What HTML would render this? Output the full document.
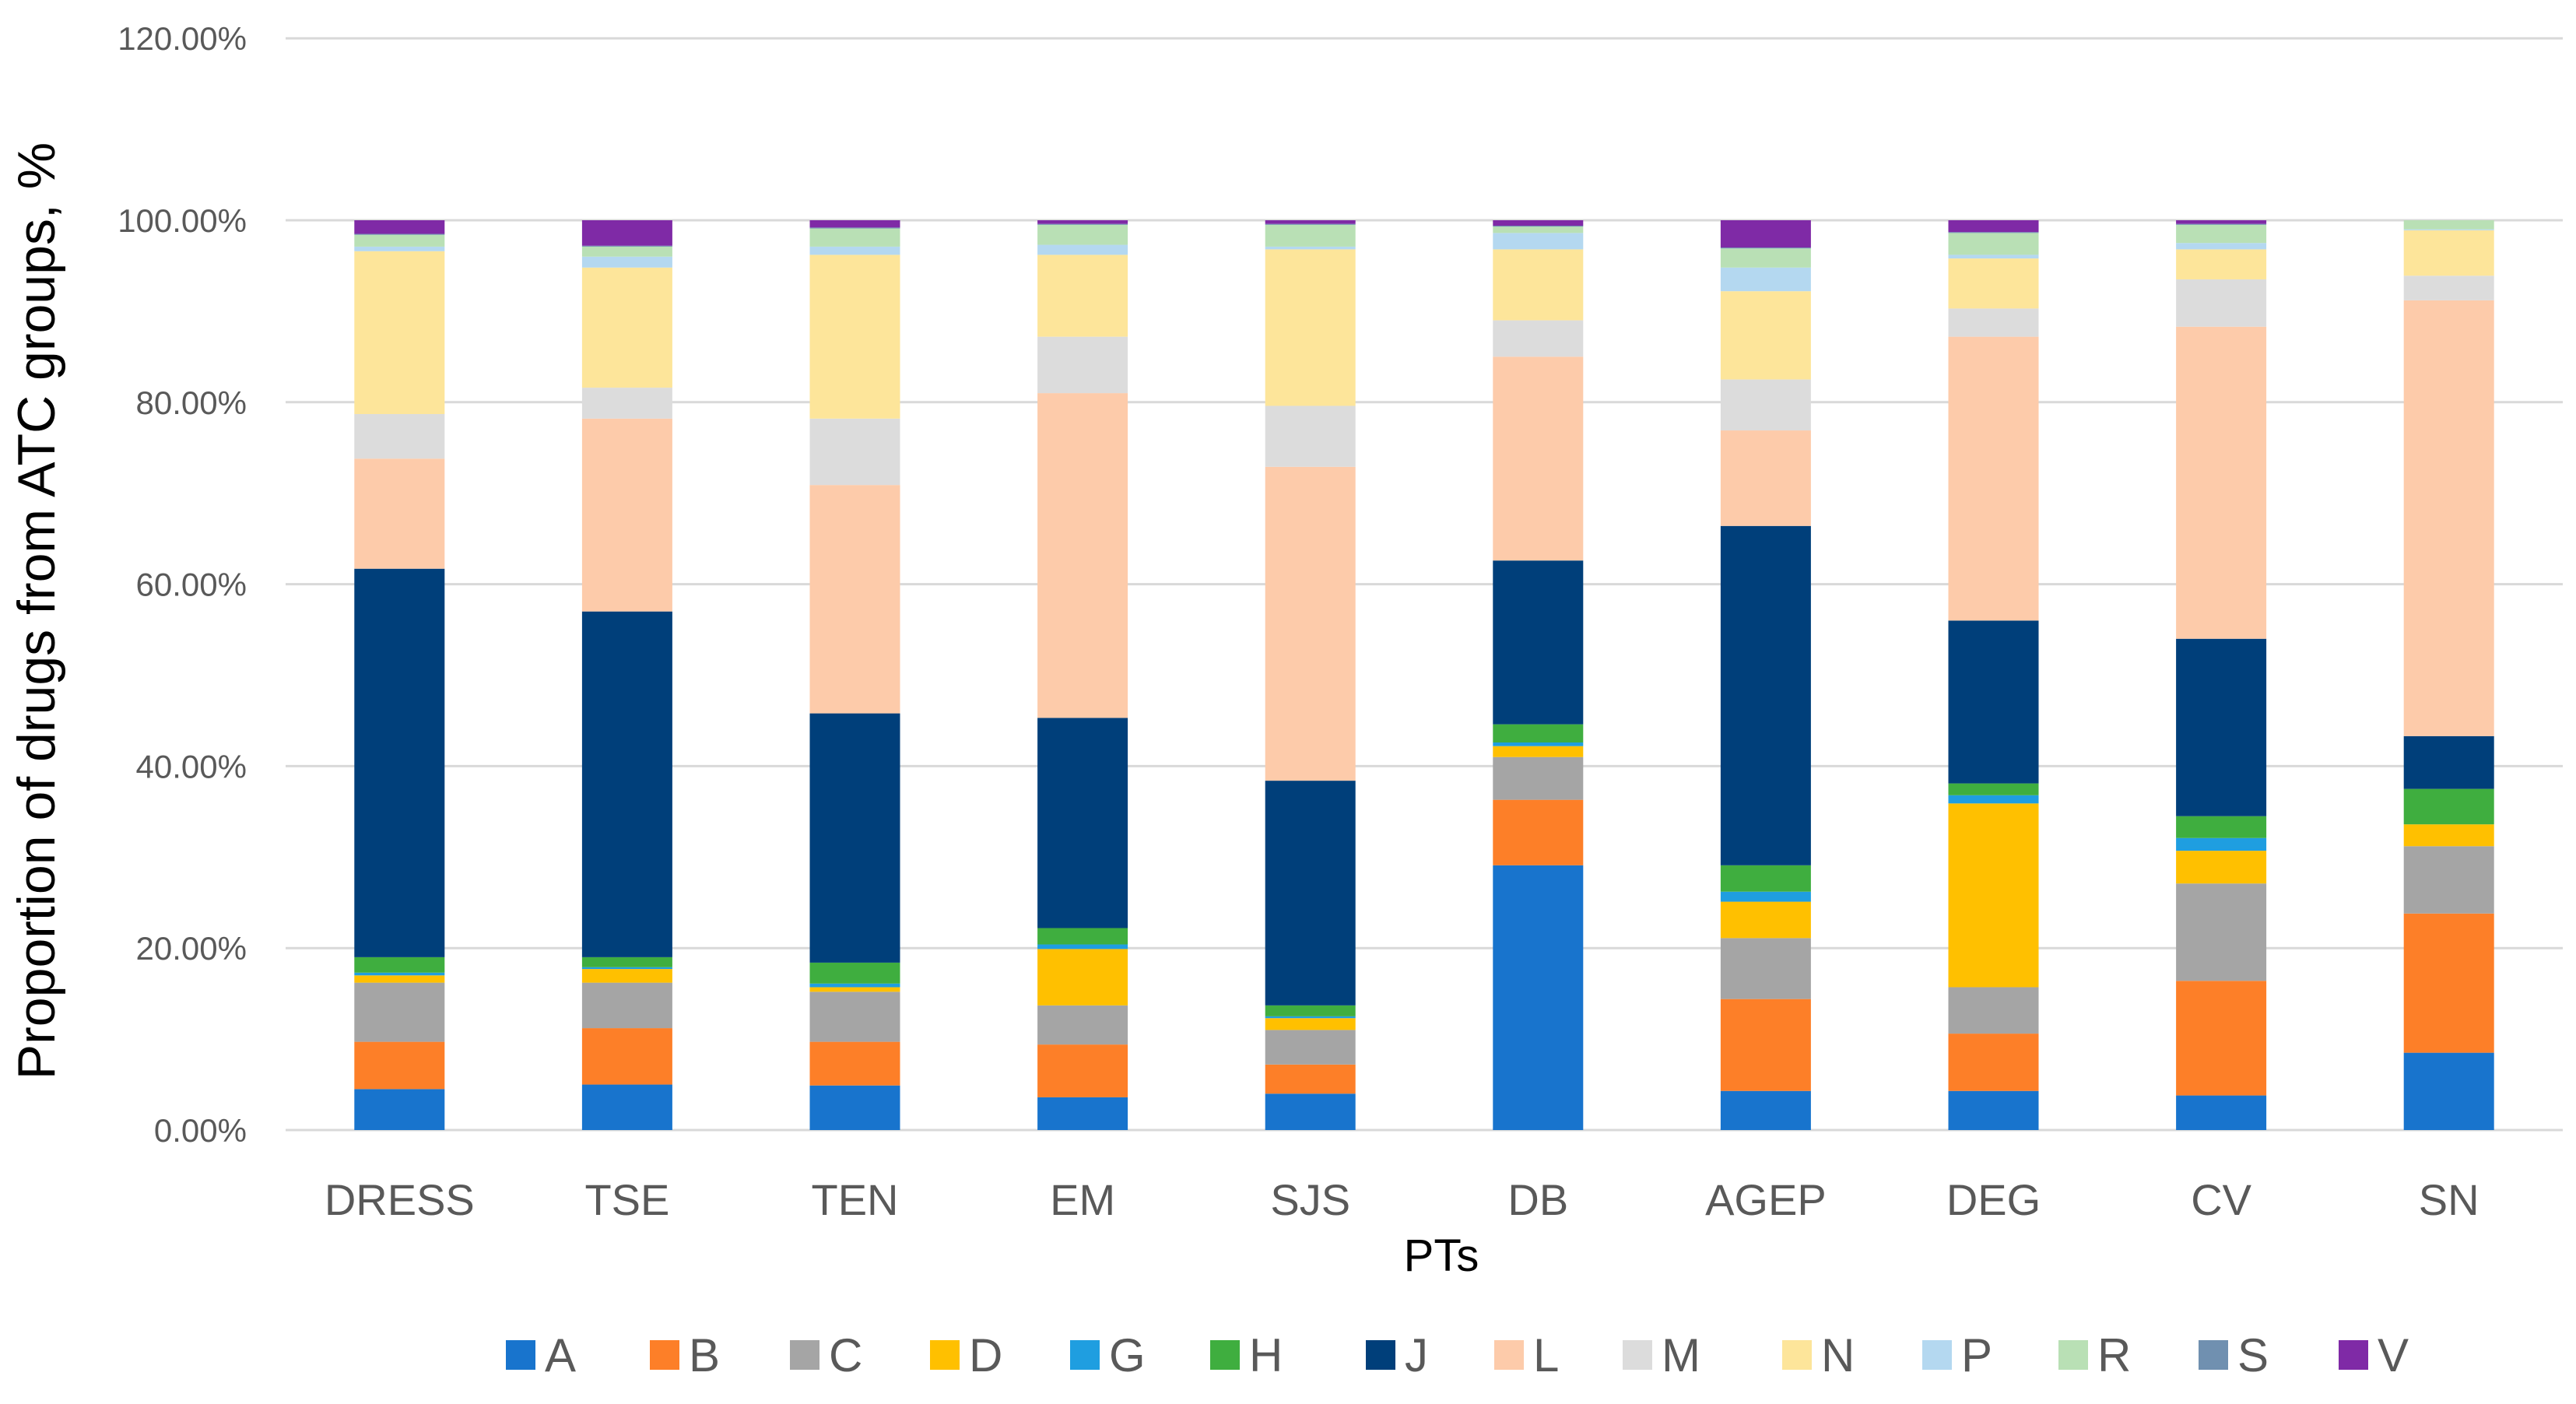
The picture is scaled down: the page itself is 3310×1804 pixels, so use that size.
<!DOCTYPE html>
<html><head><meta charset="utf-8"><style>
html,body{margin:0;padding:0;background:#fff;}
svg{display:block;font-family:"Liberation Sans","DejaVu Sans",sans-serif;}
</style></head><body>
<svg id="chart" width="3310" height="1804" viewBox="0 0 3310 1804" xmlns="http://www.w3.org/2000/svg">
<rect width="3310" height="1804" fill="#fff"/>
<g id="grid"></g>
<g id="yticks"></g>
<g id="bars"></g>
<g id="xticks"></g>
<text transform="translate(70,785) rotate(-90)" text-anchor="middle" font-size="68" fill="#000">Proportion of drugs from ATC groups, %</text>
<text x="1852" y="1633" text-anchor="middle" font-size="58" fill="#000">PTs</text>
<g id="legend"></g>
</svg>
<script>
const categories = ["DRESS","TSE","TEN","EM","SJS","DB","AGEP","DEG","CV","SN"];
const seriesNames = ["A","B","C","D","G","H","J","L","M","N","P","R","S","V"];
const A = [4.5,5.0,4.9,3.6,4.0,29.1,4.3,4.3,3.8,8.5];
const B = [5.2,6.2,4.8,5.8,3.2,7.2,10.1,6.3,12.6,15.3];
const C = [6.5,5.0,5.5,4.3,3.8,4.7,6.7,5.1,10.7,7.4];
const D = [0.8,1.5,0.5,6.2,1.3,1.2,4.0,20.2,3.6,2.4];
const G = [0.3,0.2,0.4,0.5,0.2,0.4,1.1,0.9,1.4,0];
const H = [1.7,1.1,2.3,1.8,1.2,2.0,2.9,1.3,2.4,3.9];
const J = [42.7,38.0,27.4,23.1,24.7,18.0,37.3,17.9,19.5,5.8];
const L = [12.1,21.2,25.1,35.7,34.5,22.4,10.5,31.2,34.3,47.9];
const M = [4.9,3.4,7.3,6.2,6.7,4.0,5.6,3.1,5.2,2.7];
const N = [17.9,13.2,18.0,9.0,17.2,7.8,9.7,5.5,3.3,5.0];
const P = [0.5,1.2,0.9,1.1,0.3,1.8,2.6,0.4,0.7,0.1];
const R = [1.3,1.1,2.0,2.2,2.4,0.7,2.1,2.4,2.0,1.0];
const S = [0.1,0.1,0.1,0.1,0.1,0.1,0.1,0.1,0.1,0];
const V = [1.5,2.8,0.8,0.4,0.4,0.6,3.0,1.3,0.4,0];
const yTicks = [0,20,40,60,80,100,120];
const yTickLabels = ["0.00%","20.00%","40.00%","60.00%","80.00%","100.00%","120.00%"];

const seriesValues = [A,B,C,D,G,H,J,L,M,N,P,R,S,V];
const colors = ["#1874cd","#fd7f28","#a5a5a5","#ffc000","#1f9ee0","#3fae3f","#003f7a","#fdcbaa","#dcdcdc","#fde59a","#b4d8f0","#b9e0b5","#7090b0","#7f2aa6"];
const NS="http://www.w3.org/2000/svg";
const plotL=367, plotR=3293, y0=1452, y100=283;
const yScale=v=>y0-(y0-y100)*v/100;
const band=(plotR-plotL)/categories.length;
const xCenter=i=>plotL+band*(i+0.5);
const barW=116;
function mk(tag,attrs,parent){const e=document.createElementNS(NS,tag);for(const k in attrs)e.setAttribute(k,attrs[k]);parent.appendChild(e);return e;}
const grid=document.getElementById('grid'), yt=document.getElementById('yticks');
yTicks.forEach((t,i)=>{
  const l=mk('line',{x1:plotL,x2:plotR,y1:yScale(t),y2:yScale(t),stroke:'#d9d9d9','stroke-width':3},grid);
  
  
  const tx=mk('text',{x:317,y:yScale(t)+15,'text-anchor':'end','font-size':42,fill:'#595959'},yt);
  tx.textContent=yTickLabels[i];
  
  
});
const bars=document.getElementById('bars'), xt=document.getElementById('xticks');
categories.forEach((c,i)=>{
  let cum=0;
  seriesValues.forEach((arr,s)=>{
    const v=arr[i]; if(!v) return;
    const r=mk('rect',{x:xCenter(i)-barW/2,y:yScale(cum+v),width:barW,height:yScale(cum)-yScale(cum+v),fill:colors[s]},bars);
    
    
    cum+=v;
  });
  const tx=mk('text',{x:xCenter(i),y:1561,'text-anchor':'middle','font-size':56,fill:'#595959'},xt);
  tx.textContent=c;
  
  
});
const legX=[650,835,1015,1195,1375,1555,1755,1920,2085,2290,2470,2645,2825,3005];
const leg=document.getElementById('legend');
seriesNames.forEach((n,s)=>{
  const g=mk('g',{},leg);
  
  
  mk('rect',{x:legX[s],y:1722,width:38,height:38,fill:colors[s]},g);
  const tx=mk('text',{x:legX[s]+50,y:1762,'font-size':60,fill:'#595959'},g);
  tx.textContent=n;
});
</script>
</body></html>
